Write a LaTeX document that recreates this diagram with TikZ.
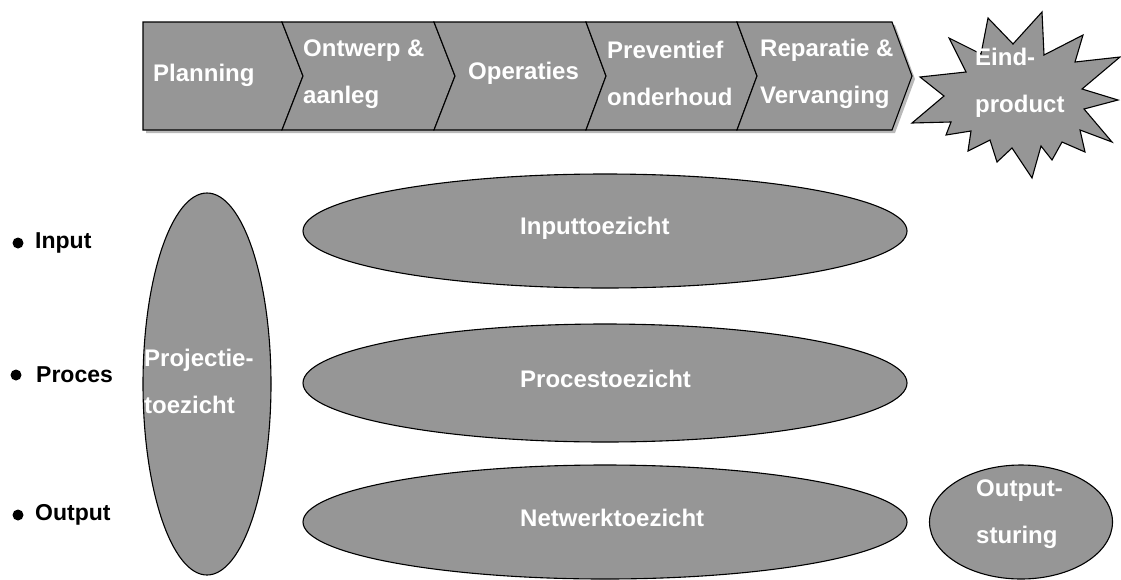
\documentclass[tikz,border=0pt]{standalone}
\usepackage{fontspec}
\setmainfont{Liberation Sans}
\usetikzlibrary{shapes.geometric}
\definecolor{pgray}{RGB}{150,150,150}
\definecolor{shgray}{RGB}{185,185,185}
\tikzset{
  shapebox/.style={draw=black, line width=1.1pt, fill=pgray, line join=miter},
  wtext/.style={text=white, font=\fontsize{24}{47}\selectfont\bfseries, inner sep=0pt, anchor=west, align=left},
  btext/.style={text=black, font=\fontsize{23}{46}\selectfont\bfseries, inner sep=0pt, anchor=west},
  oval/.style={shapebox, ellipse, inner sep=0pt},
  bul/.style={circle, fill=black, inner sep=0pt, minimum size=11pt}
}
\begin{document}
\begin{tikzpicture}[x=1pt,y=-1pt]
\useasboundingbox (0,0) rectangle (1121,579);
% shadow of the process bar
\fill[shgray] (146,25) -- (895,25) -- (915,79) -- (895,133) -- (146,133) -- cycle;
% process bar
\draw[shapebox] (143,22) -- (282,22) -- (303,76) -- (282,130) -- (143,130) -- cycle;
\draw[shapebox] (282,22) -- (434,22) -- (455,76) -- (434,130) -- (282,130) -- (303,76) -- cycle;
\draw[shapebox] (434,22) -- (586,22) -- (606,76) -- (586,130) -- (434,130) -- (455,76) -- cycle;
\draw[shapebox] (586,22) -- (737,22) -- (757,76) -- (737,130) -- (586,130) -- (606,76) -- cycle;
\draw[shapebox] (737,22) -- (892,22) -- (912,76) -- (892,130) -- (737,130) -- (757,76) -- cycle;
\node[wtext] (plan) at (153,75) {Planning};
\node[wtext] (ontw) at (303,74) {Ontwerp \&\\aanleg};
\node[wtext] (oper) at (468,73) {Operaties};
\node[wtext] (prev) at (607,73) {Preventief\\onderhoud};
\node[wtext] (repa) at (760,74) {Reparatie \&\\Vervanging};
% explosion
\draw[shapebox] (988,18) -- (1013,44) -- (1042,12) -- (1044,55) -- (1083,35) -- (1075,62)
  -- (1120,57) -- (1082,89) -- (1118,100) -- (1084,109) -- (1112,142) -- (1080,130)
  -- (1085,152) -- (1062,142) -- (1052,160) -- (1041,146) -- (1032,178) -- (1012,148)
  -- (997,162) -- (990,140) -- (968,151) -- (971,131) -- (946,135) -- (951,122)
  -- (912,123) -- (944,96) -- (920,77) -- (966,72) -- (949,38) -- (981,54) -- cycle;
\node[wtext] (eind) at (975,83) {Eind-\\product};
% ovals
\node[oval, minimum width=128pt, minimum height=382pt] (projo) at (207,384) {};
\node[oval, minimum width=604pt, minimum height=114pt] (inpo) at (605,231) {};
\node[oval, minimum width=604pt, minimum height=118pt] (proco) at (605,383) {};
\node[oval, minimum width=604pt, minimum height=114pt] (netwo) at (605,522) {};
\node[oval, minimum width=183pt, minimum height=114pt] (outo) at (1021,522) {};
\node[wtext] (projt) at (144,381) {Projectie-\\toezicht};
\node[wtext] (inpt) at (520,228) {Inputtoezicht};
\node[wtext] (proct) at (520,379) {Procestoezicht};
\node[wtext] (netwt) at (520,518) {Netwerktoezicht};
\node[wtext] (outt) at (976,514) {Output-\\sturing};
% left labels
\node[bul] (b1) at (18,243) {};
\node[btext] (l1) at (35,243) {Input};
\node[bul] (b2) at (16,375) {};
\node[btext] (l2) at (36,375) {Proces};
\node[bul] (b3) at (18,515) {};
\node[btext] (l3) at (35,515) {Output};
\end{tikzpicture}
\end{document}
